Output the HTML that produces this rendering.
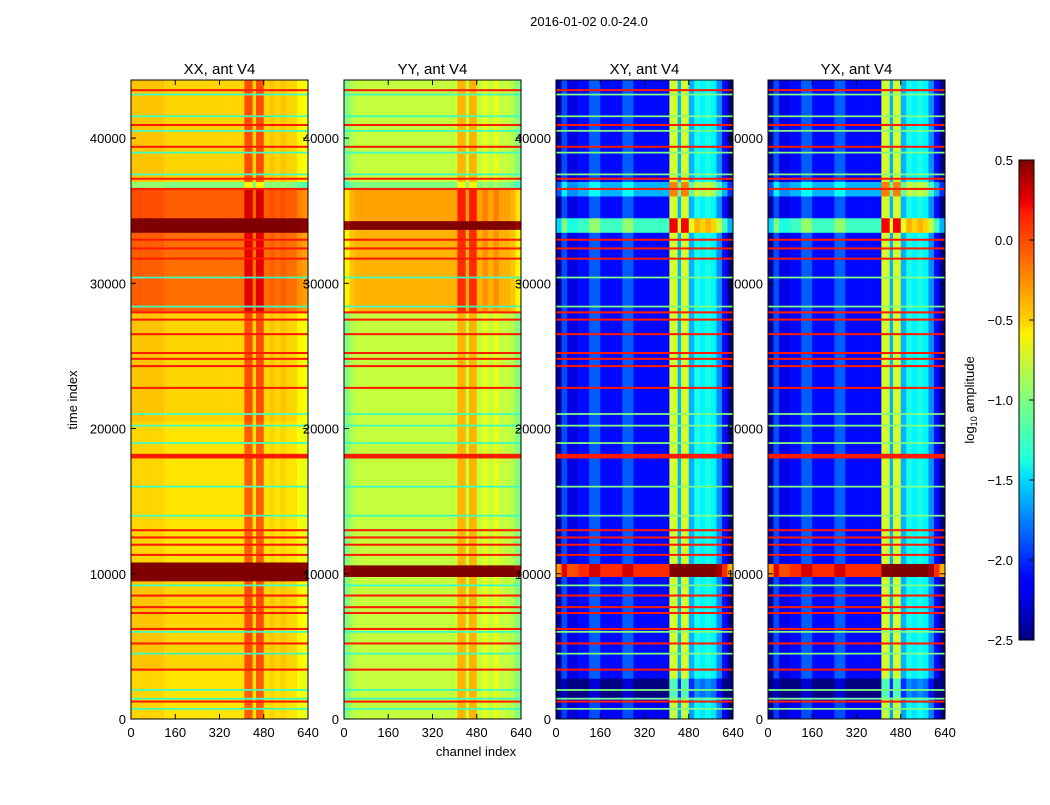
<!DOCTYPE html>
<html><head><meta charset="utf-8"><style>
body{margin:0;background:#fff;}
svg text{font-family:"Liberation Sans",sans-serif;fill:#000;}
</style></head><body>
<svg id="fig" width="1050" height="800" xmlns="http://www.w3.org/2000/svg">
<rect width="1050" height="800" fill="#fff"/>
<text x="589" y="26" font-size="13" text-anchor="middle">2016-01-02 0.0-24.0</text>
<text x="476" y="756" font-size="13" text-anchor="middle">channel index</text>
<text transform="translate(77,400) rotate(-90)" font-size="13" text-anchor="middle">time index</text>
<text transform="translate(974,400) rotate(-90)" font-size="13" text-anchor="middle">log<tspan font-size="9" dy="3">10</tspan><tspan dy="-3"> amplitude</tspan></text>
<g id="panels"></g>
<defs><linearGradient id="jet" x1="0" y1="1" x2="0" y2="0">
<stop offset="0" stop-color="#00007f"/><stop offset="0.11" stop-color="#0000ff"/><stop offset="0.125" stop-color="#0000ff"/><stop offset="0.34" stop-color="#00dfff"/><stop offset="0.375" stop-color="#1fffdf"/><stop offset="0.5" stop-color="#7fff7f"/><stop offset="0.64" stop-color="#ffef00"/><stop offset="0.66" stop-color="#ffd700"/><stop offset="0.89" stop-color="#ff1c00"/><stop offset="0.91" stop-color="#f00000"/><stop offset="1" stop-color="#7f0000"/>
</linearGradient></defs>
<rect x="1019" y="160" width="15" height="480" fill="url(#jet)" stroke="#000" stroke-width="1"/>
<g id="cbticks"></g>
</svg>
<script>
const panelTitles=["XX, ant V4","YY, ant V4","XY, ant V4","YX, ant V4"];
const panelLeft=[131,344,556,768];
const xTicks=[0,160,320,480,640];
const yTicks=[0,10000,20000,30000,40000];
const cbTicks=[0.5,0.0,-0.5,-1.0,-1.5,-2.0,-2.5];
const chanEdges=[0,20,40,80,120,160,200,240,280,320,360,410,440,452,480,500,520,540,560,580,600,620,640];
const offXX=[0.05,0.05,0.05,0.05,0,0,0,0,0,0,0,0.4,0,0.4,0,0.05,0,0.05,0,0,-0.1,-0.15];
const offYY=[-0.2,-0.05,0,0,0,0,0,0,0,0,0,0.4,0,0.4,0,0.1,0,0.1,0,0,-0.05,-0.2];
const offXY=[-0.3,0.2,-0.1,0,0.25,0,0,0.25,0,0,0,1.35,0.5,1.35,0.5,0.8,0.7,0.8,0.7,0.4,0,-0.4];
const segXX=[[0,3300,-0.55],[3300,9500,-0.5],[9500,10800,0.6],[10800,20500,-0.55],[20500,28000,-0.5],[28000,33500,-0.2],[33500,34500,0.6],[34500,36500,-0.15],[36500,37000,-1.0],[37000,44000,-0.5]];
const segYY=[[0,3300,-0.8],[3300,9800,-0.8],[9800,10600,0.6],[10600,28000,-0.8],[28000,33700,-0.4],[33700,34300,0.6],[34300,36500,-0.35],[36500,37000,-1.0],[37000,44000,-0.8]];
const segXY=[[0,1500,-2.15],[1500,2800,-2.5],[2800,9800,-2.1],[9800,10700,0.0],[10700,33500,-2.1],[33500,34500,-1.2],[34500,36000,-2.1],[36000,37000,-1.6],[37000,44000,-2.1]];
const redLines=[43300,40900,39400,37200,36500,33000,32400,31700,28000,27500,26500,25200,24800,24300,22800,18100,13000,12500,12000,11300,8500,7700,7300,6200,5200,3400,1200];
const cyanLines=[43000,41500,40500,39000,37500,30400,28400,21000,20200,19000,16000,14000,9200,6000,4500,2000,1400,700];
const panelSeg=[segXX,segYY,segXY,segXY];
const panelOff=[offXX,offYY,offXY,offXY];

const PW=177,TOP=80,BOT=719,TMAX=44000;
const NS="http://www.w3.org/2000/svg";
function yS(t){return BOT-(t/TMAX)*(BOT-TOP);}
function xS(c,i){return panelLeft[i]+c/640*PW;}
function jet(v){let x=(v+2.5)/3;x=Math.max(0,Math.min(1,x));
 const r=Math.max(0,Math.min(1,1.5-Math.abs(4*x-3))),g=Math.max(0,Math.min(1,1.5-Math.abs(4*x-2))),b=Math.max(0,Math.min(1,1.5-Math.abs(4*x-1)));
 return `rgb(${Math.round(r*255)},${Math.round(g*255)},${Math.round(b*255)})`;}
function mk(tag,attrs,parent){const e=document.createElementNS(NS,tag);for(const k in attrs)e.setAttribute(k,attrs[k]);parent.appendChild(e);return e;}
const root=document.getElementById('panels');
for(let i=0;i<4;i++){
 const g=mk('g',{},root);
 
 
 const segs=panelSeg[i],off=panelOff[i];
 segs.forEach(s=>{for(let c=0;c<chanEdges.length-1;c++){
  const x0=xS(chanEdges[c],i),x1=xS(chanEdges[c+1],i),y0=yS(s[1]),y1=yS(s[0]);
  const r=mk('rect',{x:x0,y:y0,width:x1-x0+0.3,height:y1-y0+0.3,fill:jet(s[2]+(off[c]||0))},g);
  
  
 }});
 const isXY=i>=2;
 cyanLines.forEach(t=>{const r=mk('rect',{x:xS(0,i),y:yS(t+60),width:PW,height:yS(t-60)-yS(t+60),fill:jet(isXY?-1.0:-1.2)},g);
  
  });
 redLines.forEach(t=>{const w=t===18100?160:70;const r=mk('rect',{x:xS(0,i),y:yS(t+w),width:PW,height:yS(t-w)-yS(t+w),fill:jet(0.05)},g);
  
  });
 mk('rect',{x:panelLeft[i],y:TOP,width:PW,height:BOT-TOP,fill:'none',stroke:'#000','stroke-width':1},g);
 const tt=mk('text',{x:panelLeft[i]+PW/2,y:74,'font-size':15,'text-anchor':'middle'},g);tt.textContent=panelTitles[i];
 
 
 xTicks.forEach(v=>{const x=xS(v,i);
  mk('line',{x1:x,x2:x,y1:BOT,y2:BOT-5,stroke:'#000'},g);mk('line',{x1:x,x2:x,y1:TOP,y2:TOP+5,stroke:'#000'},g);
  const t=mk('text',{x:x,y:737,'font-size':13,'text-anchor':'middle'},g);t.textContent=v;
  
  });
 yTicks.forEach(v=>{const y=yS(v);
  mk('line',{x1:panelLeft[i],x2:panelLeft[i]+5,y1:y,y2:y,stroke:'#000'},g);mk('line',{x1:panelLeft[i]+PW,x2:panelLeft[i]+PW-5,y1:y,y2:y,stroke:'#000'},g);
  const t=mk('text',{x:panelLeft[i]-5,y:y+5,'font-size':13,'text-anchor':'end'},g);t.textContent=v;
  
  });
}
const cb=document.getElementById('cbticks');
cbTicks.forEach(v=>{const y=160+(0.5-v)/3*480;
 mk('line',{x1:1029,x2:1034,y1:y,y2:y,stroke:'#000'},cb);
 const t=mk('text',{x:1013,y:y+5,'font-size':13,'text-anchor':'end'},cb);t.textContent=v.toFixed(1).replace('-','\u2212');
 
 });
</script>
</body></html>
